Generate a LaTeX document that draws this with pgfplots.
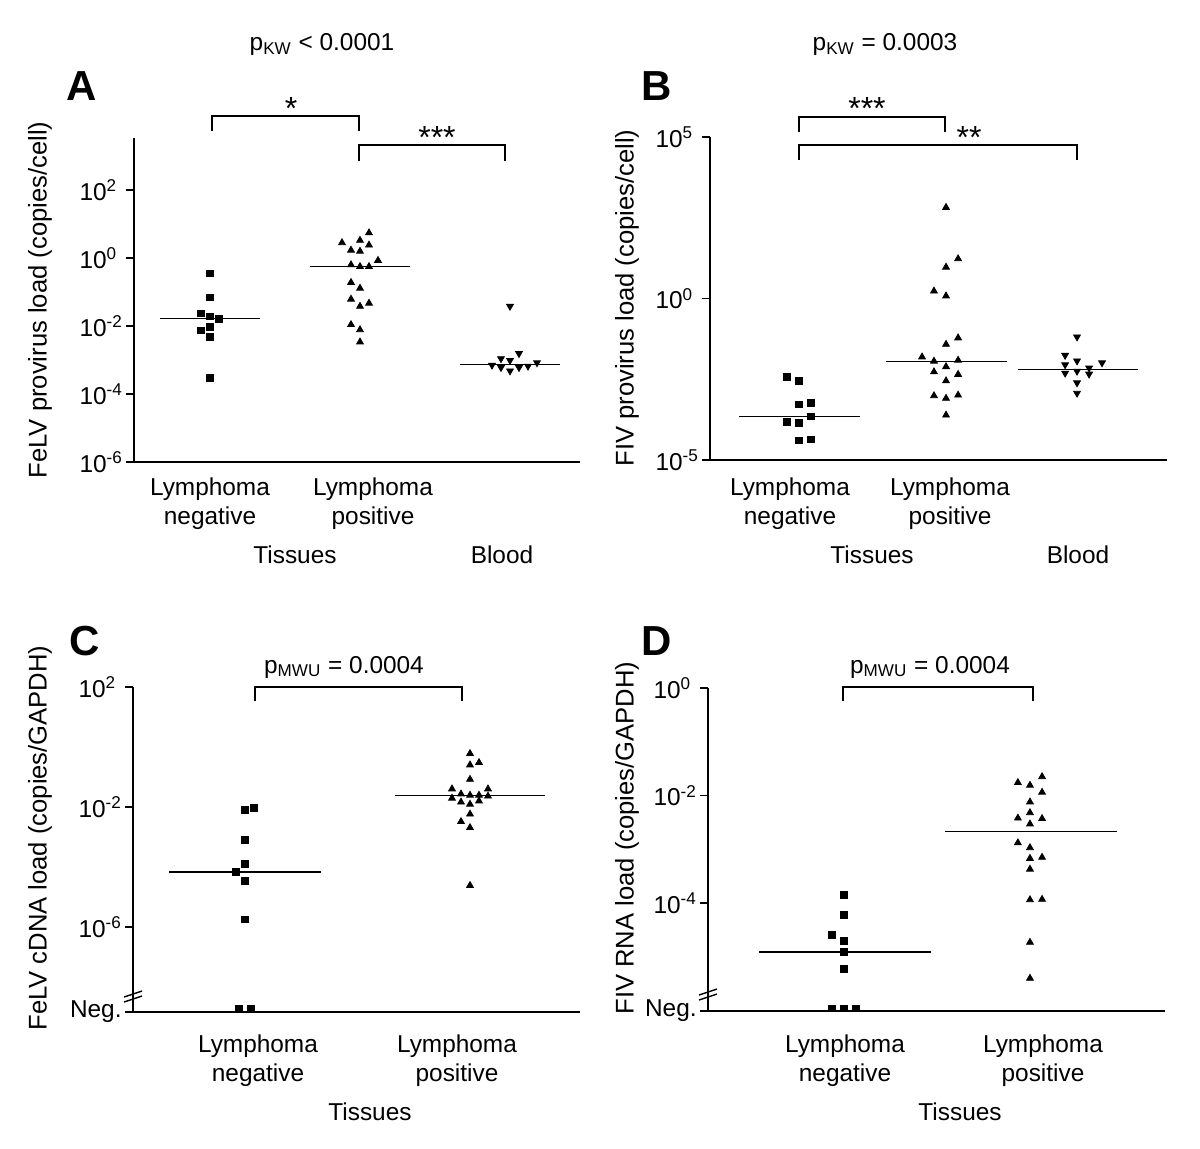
\documentclass[border=0pt]{standalone}
\usepackage{fontspec}
\setmainfont{Liberation Sans}
\usepackage{pgfplots}
\pgfplotsset{compat=1.18}

\newcommand\lab{\fontsize{12.2}{14.5}\selectfont}
\newcommand\ylab{\fontsize{12.8}{15}\selectfont}
\newcommand\tenp[1]{10\textsuperscript{#1}}
\newcommand\panlab{\fontsize{21}{24}\selectfont\bfseries}
\newcommand\stars{\fontsize{16}{18}\selectfont}

\pgfplotsset{
  panel/.style={
    scale only axis, anchor=south west,
    axis x line*=bottom, axis y line*=left,
    axis line style={line width=0.75pt},
    xtick=\empty, tick align=outside, major tick length=4pt,
    ytick style={line width=0.75pt, black}, yminorticks=false,
    yticklabel style={font=\lab, anchor=east, text width=21.5pt, align=left, inner sep=0pt, xshift=-1.5pt},
    clip=false,
  },
  sq/.style={only marks, mark=square*, mark size=1.7pt, black},
  up/.style={only marks, mark=triangle*, mark size=1.95pt, black},
  dn/.style={only marks, mark=triangle*, mark size=1.95pt, black, mark options={rotate=180}},
  med/.style={black, line width=0.8pt, no marks},
}

\begin{document}
\begin{tikzpicture}
\useasboundingbox (0pt,0pt) rectangle (600pt,-574pt);

% ---- A: FeLV provirus
\begin{axis}[ymode=log, panel, at={(67pt,-231pt)}, width=223pt, height=162pt,
  xmin=0.4933, xmax=3.4667, ymin=1e-6, ymax=3390,
  ytick={1e-6,1e-4,1e-2,1,100},
  yticklabels={\tenp{-6},\tenp{-4},\tenp{-2},\tenp{0},\tenp{2}}]
  \addplot[sq] coordinates {(1,0.355) (1,0.0692) (0.94,0.0234) (1,0.0191) (1.06,0.0166)
    (1,0.00955) (0.94,0.00741) (1,0.0049) (1,0.000302)};
  \addplot[up] coordinates {(2.06,5.50) (1.88,2.82) (2,3.31) (2.06,2.40) (1.94,1.70) (2,1.58)
    (2.12,0.851) (1.94,0.631) (2,0.562) (2.06,0.562) (1.94,0.191) (2,0.129) (1.94,0.0617)
    (2.06,0.0468) (2,0.038) (1.94,0.011) (2,0.00776) (2,0.00339)};
  \addplot[dn] coordinates {(3,0.038) (3.06,0.00155) (2.94,0.0011) (3,0.000977) (3.18,0.000832)
    (2.88,0.000708) (2.94,0.000603) (3.06,0.000603) (3.12,0.000661) (3,0.000479)};
  \addplot[med] coordinates {(0.667,0.0166) (1.333,0.0166)};
  \addplot[med] coordinates {(1.667,0.56) (2.333,0.56)};
  \addplot[med] coordinates {(2.667,0.000741) (3.333,0.000741)};
\end{axis}

% ---- B: FIV provirus
\begin{axis}[ymode=log, panel, at={(355pt,-230pt)}, width=228.5pt, height=161.5pt,
  xmin=0.3946, xmax=3.503, ymin=1e-5, ymax=1e5,
  ytick={1e-5,1,1e5},
  yticklabels={\tenp{-5},\tenp{0},\tenp{5}}]
  \addplot[sq] coordinates {(0.918,0.00372) (1,0.00275) (1,0.000525) (1.082,0.000589)
    (1.082,0.000224) (0.918,0.000151) (1,0.000141) (1,4.07e-5) (1.082,4.37e-5)};
  \addplot[up] coordinates {(2,661) (2.082,17.0) (2,9.33) (1.918,1.70) (2,1.20) (2.082,0.0603)
    (2,0.038) (1.837,0.0155) (1.918,0.0115) (2.082,0.0123) (2,0.00776) (1.918,0.00537)
    (2.082,0.00447) (2,0.00282) (1.918,0.000977) (2,0.000813) (2.082,0.00102) (2,0.000245)};
  \addplot[dn] coordinates {(2.891,0.0646) (2.81,0.0174) (2.891,0.0117) (3.061,0.0102)
    (2.81,0.00891) (2.973,0.00708) (2.81,0.0049) (2.891,0.00562) (2.973,0.00457)
    (2.891,0.00245) (2.891,0.00117)};
  \addplot[med] coordinates {(0.592,0.000224) (1.415,0.000224)};
  \addplot[med] coordinates {(1.592,0.0112) (2.415,0.0112)};
  \addplot[med] coordinates {(2.49,0.0063) (3.306,0.0063)};
\end{axis}

% ---- C: FeLV cDNA
\begin{axis}[ymode=log, panel, at={(66.5pt,-506pt)}, width=223.5pt, height=162.5pt,
  xmin=0.502, xmax=2.489, ymin=1.44e-9, ymax=100,
  ytick={1.44e-9,1e-6,1e-2,100},
  yticklabels={\makebox[21.5pt][r]{Neg.},\tenp{-6},\tenp{-2},\tenp{2}}]
  \addplot[sq] coordinates {(1,0.00813) (1.04,0.00912) (1,0.000776) (1,0.000129) (0.96,6.76e-5)
    (1,3.47e-5) (1,1.78e-6) (0.973,1.8e-9) (1.027,1.8e-9)};
  \addplot[up] coordinates {(2,0.603) (2,0.251) (2.04,0.302) (2,0.0832) (1.92,0.0398) (2.08,0.0398)
    (1.96,0.0269) (2,0.0245) (2.04,0.0245) (1.92,0.0195) (2.08,0.0229) (1.96,0.0145)
    (2,0.0123) (2.04,0.0158) (2,0.00575) (1.96,0.00324) (2,0.00204) (2,2.4e-5)};
  \addplot[med] coordinates {(0.662,6.6e-5) (1.338,6.6e-5)};
  \addplot[med] coordinates {(1.667,0.024) (2.333,0.024)};
\end{axis}

% ---- D: FIV RNA
\begin{axis}[ymode=log, panel, at={(354pt,-505.5pt)}, width=228.5pt, height=161.5pt,
  xmin=0.269, xmax=2.726, ymin=9.8e-7, ymax=1,
  ytick={9.8e-7,1e-4,1e-2,1},
  yticklabels={\makebox[21.5pt][r]{Neg.},\tenp{-4},\tenp{-2},\tenp{0}}]
  \addplot[sq] coordinates {(1,0.000141) (1,6.03e-5) (0.935,2.57e-5) (1,1.95e-5) (1,1.23e-5)
    (1,5.89e-6) (0.935,1.1e-6) (1,1.1e-6) (1.065,1.1e-6)};
  \addplot[up] coordinates {(2.065,0.0224) (1.935,0.0174) (2,0.0155) (2.065,0.0115) (2,0.00759)
    (2,0.00479) (1.935,0.0038) (2.065,0.00372) (2,0.00295) (1.935,0.00132) (2,0.00107)
    (2,0.000676) (2.065,0.000708) (2,0.000427) (2,0.000115) (2.065,0.000117) (2,1.86e-5)
    (2,3.98e-6)};
  \addplot[med] coordinates {(0.543,1.23e-5) (1.468,1.23e-5)};
  \addplot[med] coordinates {(1.543,0.00214) (2.468,0.00214)};
\end{axis}

% ---- annotations, in pixel units of the figure (origin top left)
\begin{scope}[x=0.5pt, y=-0.5pt]
  \node[font=\panlab] at (82,86) {A};
  \node[font=\panlab] at (657,86) {B};
  \node[font=\panlab] at (85,641) {C};
  \node[font=\panlab] at (657,641) {D};

  \node[font=\lab] at (322,45) {p\textsubscript{KW} < 0.0001};
  \node[font=\lab] at (885,45) {p\textsubscript{KW} = 0.0003};
  \node[font=\lab] at (344,667) {p\textsubscript{MWU} = 0.0004};
  \node[font=\lab] at (930,667) {p\textsubscript{MWU} = 0.0004};

  \node[font=\ylab, rotate=90] at (40,300) {FeLV provirus load (copies/cell)};
  \node[font=\ylab, rotate=90] at (627,298) {FIV provirus load (copies/cell)};
  \node[font=\ylab, rotate=90] at (40,838) {FeLV cDNA load (copies/GAPDH)};
  \node[font=\ylab, rotate=90] at (627,838) {FIV RNA load (copies/GAPDH)};

  \begin{scope}[line width=0.9pt]
    \draw (212,131) -- (212,116) -- (359,116) -- (359,131);
    \draw (359,161) -- (359,145) -- (505,145) -- (505,161);
    \draw (799,132) -- (799,117) -- (945,117) -- (945,132);
    \draw (799,160) -- (799,145) -- (1077,145) -- (1077,160);
    \draw (255,701) -- (255,687) -- (462,687) -- (462,701);
    \draw (843,701) -- (843,687) -- (1033,687) -- (1033,701);
  \end{scope}
  \node[font=\stars] at (291,108) {*};
  \node[font=\stars] at (437,137) {***};
  \node[font=\stars] at (867,108) {***};
  \node[font=\stars] at (969,137) {**};

  % axis breaks
  \begin{scope}[line width=0.7pt]
    \draw (124,997) -- (142,991);
    \draw (124,1002) -- (142,996);
    \draw (699,995) -- (717,989);
    \draw (699,1000) -- (717,994);
  \end{scope}

  \begin{scope}[font=\lab, align=center]
    \node at (210,504) {Lymphoma\\negative};
    \node at (373,504) {Lymphoma\\positive};
    \node at (295,555) {Tissues};
    \node at (502,555) {Blood};
    \node at (790,504) {Lymphoma\\negative};
    \node at (950,504) {Lymphoma\\positive};
    \node at (872,555) {Tissues};
    \node at (1078,555) {Blood};
    \node at (258,1061) {Lymphoma\\negative};
    \node at (457,1061) {Lymphoma\\positive};
    \node at (370,1112) {Tissues};
    \node at (845,1061) {Lymphoma\\negative};
    \node at (1043,1061) {Lymphoma\\positive};
    \node at (960,1112) {Tissues};
  \end{scope}
\end{scope}
\end{tikzpicture}
\end{document}
